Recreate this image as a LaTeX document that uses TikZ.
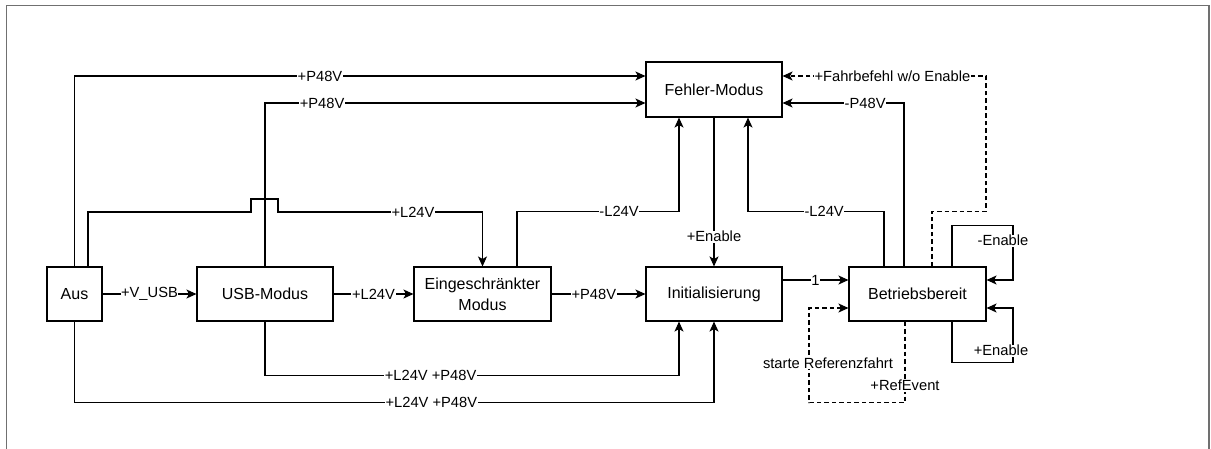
\documentclass[tikz,border=0pt]{standalone}
\usepackage{fontspec}
\setmainfont{Liberation Sans}
\usetikzlibrary{arrows.meta}
\definecolor{framegray}{RGB}{112,112,112}
\begin{document}
\begin{tikzpicture}[x=1pt,y=-1pt,
  statebox/.style={draw,line width=1.1pt,minimum height=54pt,inner sep=2pt,
    font=\fontsize{16}{21}\selectfont,align=center},
  elbl/.style={fill=white,inner sep=0.6pt,font=\fontsize{14.7}{17}\selectfont},
  conn/.style={line width=1.1pt,-{Stealth[length=10pt,width=9pt,inset=2.5pt]}},
  dconn/.style={conn,dash pattern=on 4.5pt off 3pt}]%
% states placed at pixel coordinates of the sheet
\useasboundingbox (0,0) rectangle (1211,448);
\draw[framegray,line width=1.4pt] (6.5,5.5) rectangle (1209,470);
\node[statebox,minimum width=55pt] (aus) at (74.5,294) {Aus};
\node[statebox,minimum width=136pt] (usb) at (265,294) {USB-Modus};
\node[statebox,minimum width=137pt] (eing) at (482.5,294) {Eingeschränkter\\Modus};
\node[statebox,minimum width=136pt] (init) at (714,294) {Initialisierung};
\node[statebox,minimum width=136pt,minimum height=55pt] (fehler) at (714,89.5) {Fehler-Modus};
\node[statebox,minimum width=137pt] (betr) at (917.5,294) {Betriebsbereit};
\draw[conn] (aus) -- node[elbl]{+V\_USB} (usb);
\draw[conn] (usb) -- node[elbl]{+L24V} (eing);
\draw[conn] (eing) -- node[elbl,pos=0.45]{+P48V} (init);
\draw[conn] ([yshift=14pt]init.east) -- node[elbl]{1} ([yshift=14pt]betr.west);
\draw[conn] (aus.north) |- node[elbl,pos=0.715]{+P48V} ([yshift=13.5pt]fehler.west);
\draw[conn] (usb.north) |- node[elbl,pos=0.575]{+P48V} ([yshift=-13.5pt]fehler.west);
\draw[conn] ([xshift=13.5pt]aus.north) |- (251,212) |- (278,199) -- (278,212)
  -| node[elbl,pos=0.33]{+L24V} (eing.north);
\draw[conn] ([xshift=34.5pt]eing.north) -- ++(0,-55)
  -| node[elbl,pos=0.315]{-L24V} ([xshift=-35pt]fehler.south);
\draw[conn] (fehler.south) -- node[elbl,pos=0.8]{+Enable} (init.north);
\draw[conn] ([xshift=-33.5pt]betr.north) -- ++(0,-55)
  -| node[elbl,pos=0.22]{-L24V} ([xshift=34pt]fehler.south);
\draw[conn] ([xshift=-13.5pt]betr.north) |- node[elbl,pos=0.66]{-P48V} ([yshift=-13.5pt]fehler.east);
\draw[dconn] ([xshift=14.5pt]betr.north) -- ++(0,-55) -- ++(54,0)
  |- node[elbl,pos=0.73]{+Fahrbefehl w/o Enable} ([yshift=13.5pt]fehler.east);
\draw[conn] ([xshift=34.5pt]betr.north) -- ++(0,-41) -- ++(61,0)
  |- node[elbl,pos=0.14,xshift=-10pt]{-Enable} ([yshift=14pt]betr.east);
\draw[conn] ([xshift=34.5pt]betr.south) -- ++(0,41) -- ++(61,0)
  |- node[elbl,pos=0.11,xshift=-12pt]{+Enable} ([yshift=-14pt]betr.east);
\draw[dconn] ([xshift=-12.5pt]betr.south) -- node[elbl,pos=0.79]{+RefEvent} ++(0,81) -- ++(-96,0)
  |- node[elbl,pos=0.21,xshift=19pt]{starte Referenzfahrt} ([yshift=-14pt]betr.west);
\draw[conn] (usb.south) -- ++(0,54)
  -| node[elbl,pos=0.2]{+L24V +P48V} ([xshift=-35pt]init.south);
\draw[conn] (aus.south) -- ++(0,81)
  -| node[elbl,pos=0.279]{+L24V +P48V} (init.south);
\end{tikzpicture}
\end{document}
